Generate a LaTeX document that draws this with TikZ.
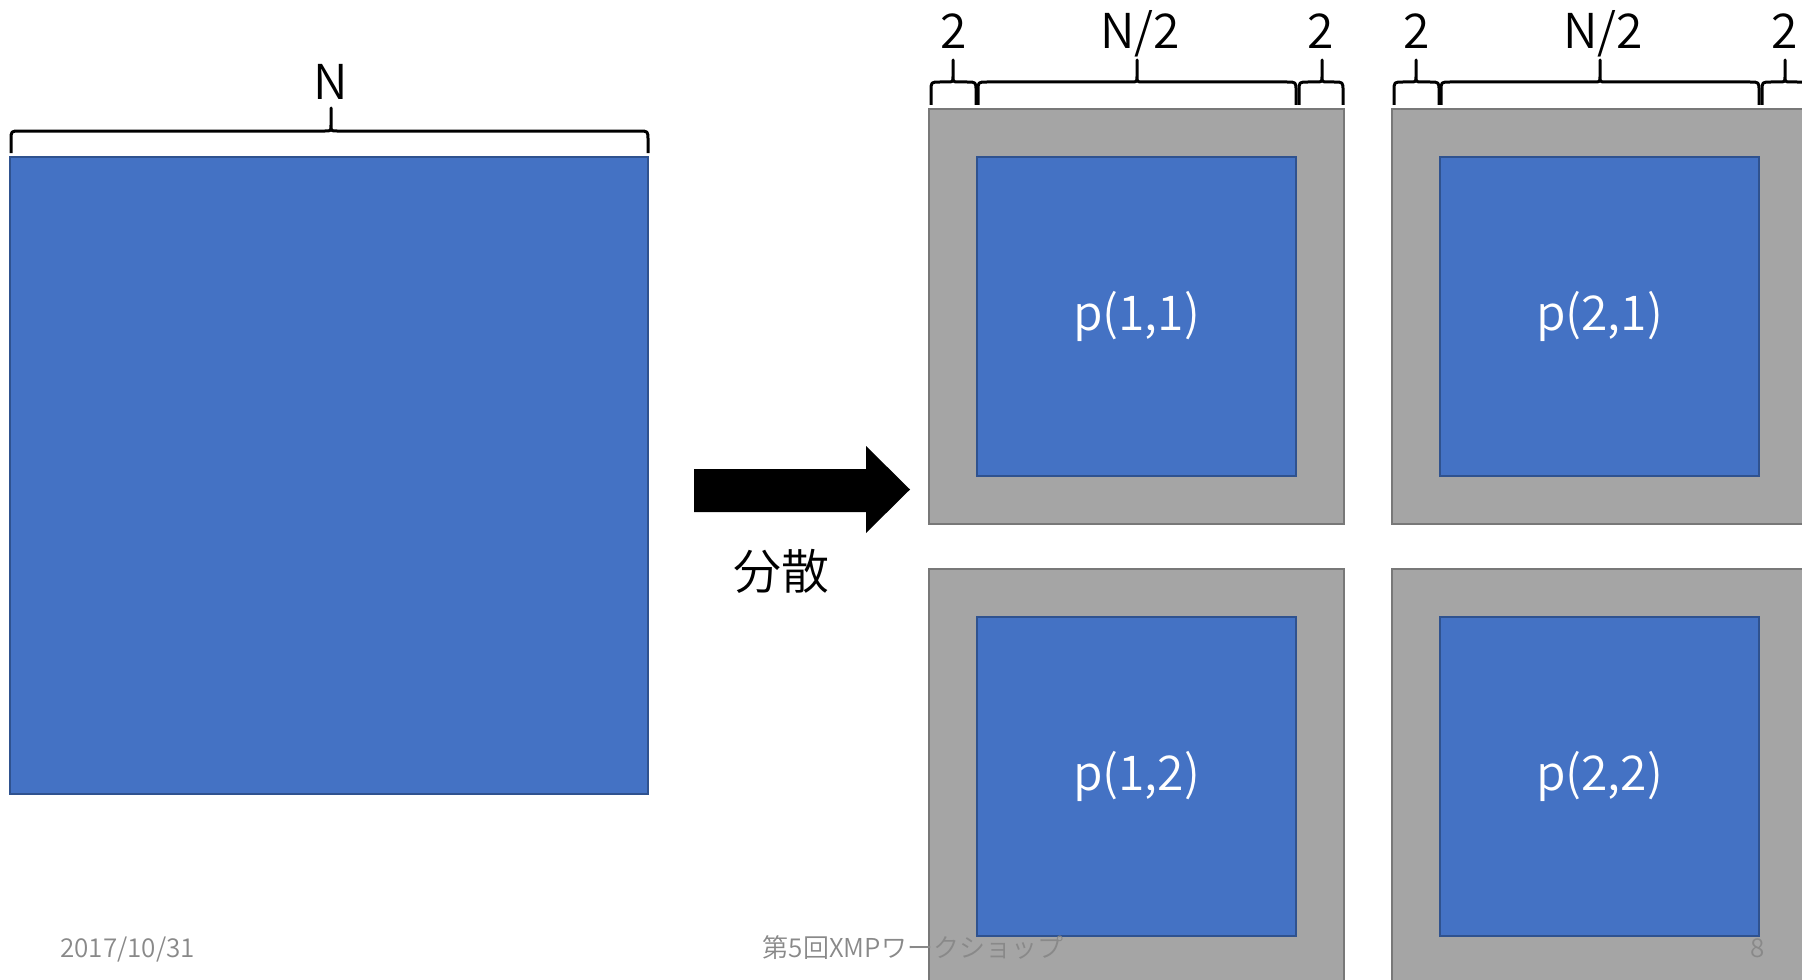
\documentclass[tikz,border=0pt]{standalone}
\usepackage{fontspec}
\setmainfont{Noto Sans CJK JP}[UprightFont={* DemiLight}]

\definecolor{tileblue}{HTML}{4472C4}
\definecolor{tileedge}{HTML}{2F528F}
\definecolor{halogrey}{HTML}{A5A5A5}
\definecolor{haloedge}{HTML}{787878}
\definecolor{footgrey}{HTML}{898989}

% horizontal curly brace: x-left, x-right, x-tip, y-ends, y-bar, y-tip
\newcommand\dimbrace[6]{%
  \draw[bracepen] (#1,#4) -- (#1,#5+9) .. controls (#1,#5) .. (#1+9,#5)
    -- (#3-6,#5) .. controls (#3,#5) .. (#3,#5-6) -- (#3,#6)
    -- (#3,#5-6) .. controls (#3,#5) .. (#3+6,#5)
    -- (#2-9,#5) .. controls (#2,#5) .. (#2,#5+9) -- (#2,#4);}

\begin{document}
\begin{tikzpicture}[
  x=0.5pt, y=-0.5pt,
  blueblk/.style={draw=tileedge, fill=tileblue, line width=1.2pt, inner sep=0pt},
  haloblk/.style={draw=haloedge, fill=halogrey, line width=1.2pt, inner sep=0pt,
                  minimum width=207.5pt, minimum height=207.5pt},
  cell/.style={blueblk, minimum width=159.5pt, minimum height=159.5pt,
               text=white, font=\fontsize{24}{28}\selectfont},
  bracepen/.style={black, line width=1.5pt, line join=round},
  dimlabel/.style={anchor=base, inner sep=0pt, font=\fontsize{24}{28}\selectfont},
  footer/.style={anchor=base, inner sep=0pt, text=footgrey, font=\fontsize{13}{15}\selectfont}
]
\useasboundingbox (0,0) rectangle (1802,979);
\clip (0,0) rectangle (1802,979);

% full domain
\node[blueblk, minimum width=319pt, minimum height=318.5pt] (whole) at (329,475.5) {};
\dimbrace{11}{648}{331}{153}{131}{108}
\node[dimlabel] (lblN) at (331,99) {N};

% distribution arrow
\fill[black] (694,469) -- (866,469) -- (866,446) -- (910,489.5)
  -- (866,533) -- (866,512) -- (694,512) -- cycle;
\node[inner sep=0pt, font=\fontsize{24}{28}\selectfont] (dist) at (781,571) {分散};

% sub-domains with halo regions
\node[haloblk] (h11) at (1136.5,316.5) {};
\node[haloblk] (h21) at (1599.5,316.5) {};
\node[haloblk] (h12) at (1136.5,776.5) {};
\node[haloblk] (h22) at (1599.5,776.5) {};
\node[cell] (p11) at (1136.5,316.5) {p(1,1)};
\node[cell] (p21) at (1599.5,316.5) {p(2,1)};
\node[cell] (p12) at (1136.5,776.5) {p(1,2)};
\node[cell] (p22) at (1599.5,776.5) {p(2,2)};

% widths of halo and interior
\dimbrace{931}{976}{953}{105}{82}{60}
\dimbrace{978}{1296}{1137}{105}{82}{60}
\dimbrace{1299}{1343}{1322}{105}{82}{60}
\dimbrace{1394}{1439}{1416}{105}{82}{60}
\dimbrace{1441}{1759}{1600}{105}{82}{60}
\dimbrace{1762}{1806}{1785}{105}{82}{60}
\node[dimlabel] (w1a) at (954,49) {2};
\node[dimlabel] (w1b) at (1140,49) {N/2};
\node[dimlabel] (w1c) at (1321,49) {2};
\node[dimlabel] (w2a) at (1417,49) {2};
\node[dimlabel] (w2b) at (1603,49) {N/2};
\node[dimlabel] (w2c) at (1785,49) {2};

% slide footer
\node[footer, anchor=base west] (date) at (60,957) {2017/10/31};
\node[footer] (event) at (913,957) {第5回XMPワークショップ};
\node[footer] (page) at (1758,957) {8};
\end{tikzpicture}
\end{document}
